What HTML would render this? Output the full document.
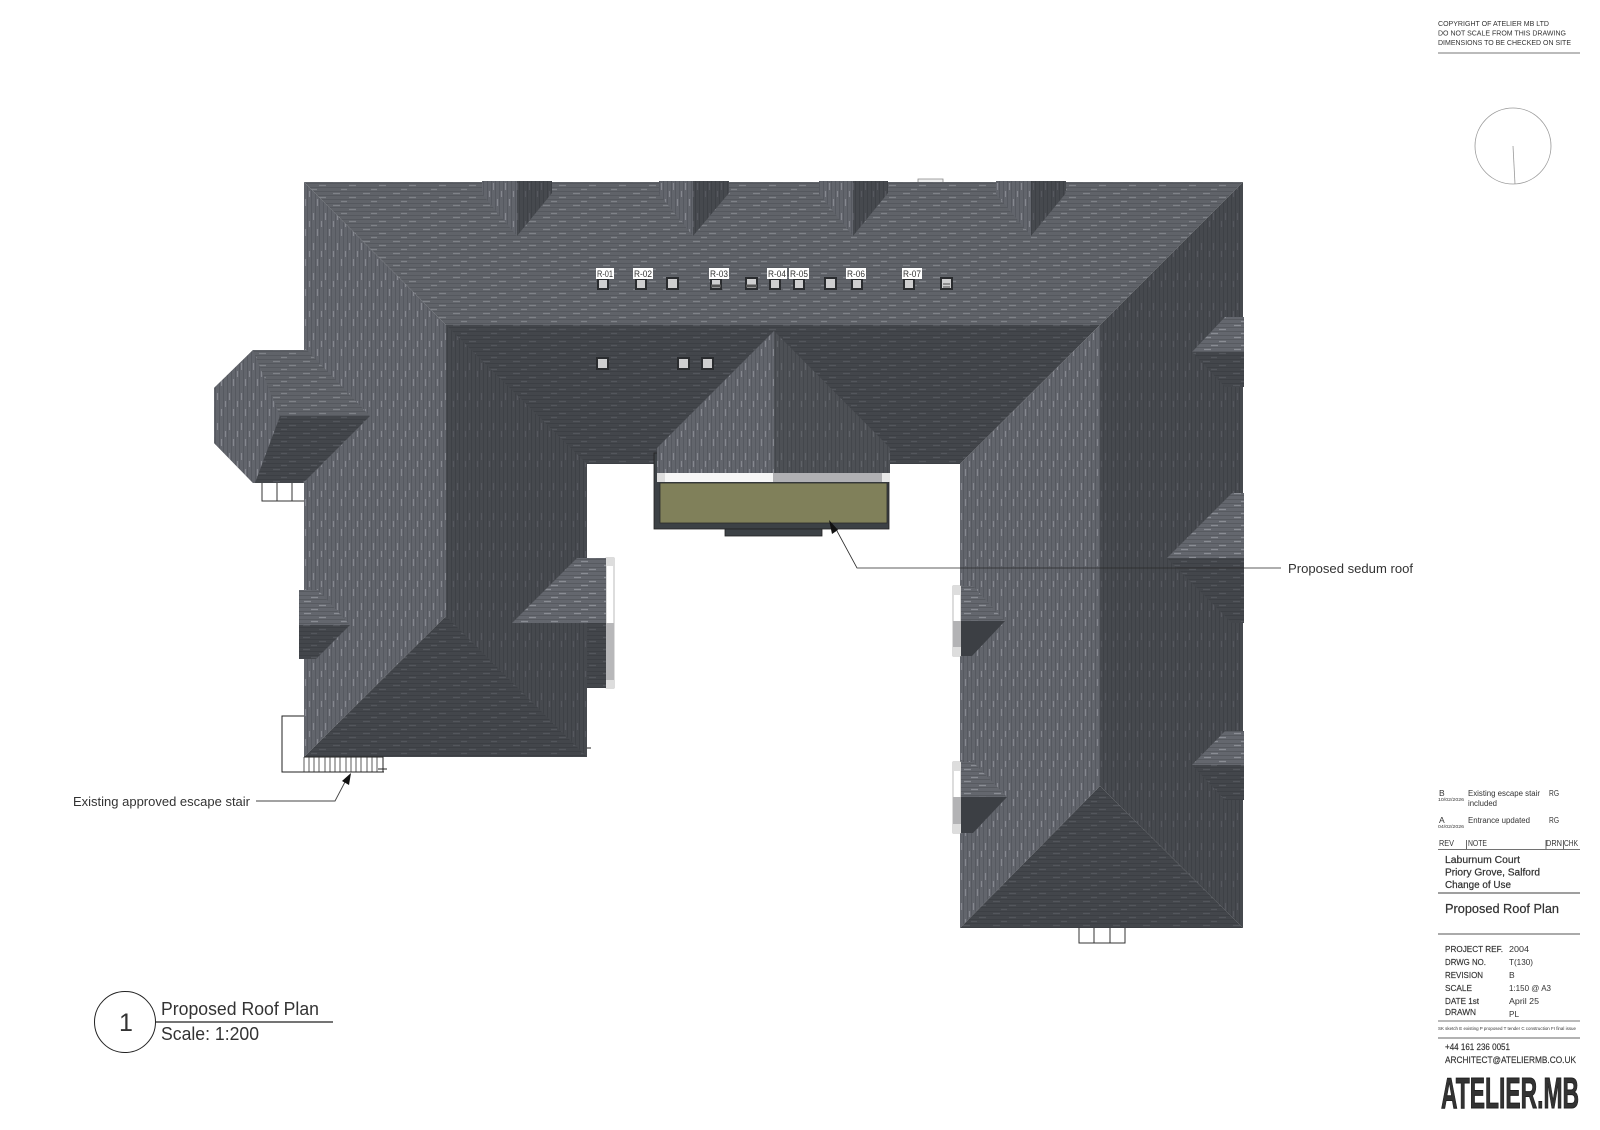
<!DOCTYPE html>
<html>
<head>
<meta charset="utf-8">
<title>Proposed Roof Plan</title>
<style>
html,body{margin:0;padding:0;background:#fff;width:1600px;height:1130px;overflow:hidden}
svg{display:block}
text{font-family:"Liberation Sans",sans-serif;fill:#333}
</style>
</head>
<body>
<svg width="1600" height="1130" viewBox="0 0 1600 1130" xmlns="http://www.w3.org/2000/svg">
<defs>
<pattern id="mh" width="30" height="12" patternUnits="userSpaceOnUse">
<rect width="30" height="12" fill="#606369"/>
<path d="M0 3.500H30M0 7.500H30M0 11.500H30" stroke="#55585e" stroke-width="1"/>
<path d="M3 1.500H10M19 5.500H26M11 9.500H17" stroke="#7f8288" stroke-width="1.200"/>
</pattern>
<pattern id="lv" width="12" height="30" patternUnits="userSpaceOnUse">
<rect width="12" height="30" fill="#62656c"/>
<path d="M3.500 0V30M7.500 0V30M11.500 0V30" stroke="#565960" stroke-width="1"/>
<path d="M1.500 3V10M5.500 19V26M9.500 11V17" stroke="#85888f" stroke-width="1.200"/>
</pattern>
<pattern id="dv" width="12" height="30" patternUnits="userSpaceOnUse">
<rect width="12" height="30" fill="#46494e"/>
<path d="M3.500 0V30M7.500 0V30M11.500 0V30" stroke="#3e4146" stroke-width="1"/>
<path d="M1.500 3V10M9.500 11V17" stroke="#55585e" stroke-width="1.200"/>
</pattern>
<pattern id="gv" width="12" height="30" patternUnits="userSpaceOnUse">
<rect width="12" height="30" fill="#4d5055"/>
<path d="M3.500 0V30M7.500 0V30M11.500 0V30" stroke="#44474c" stroke-width="1"/>
<path d="M1.500 3V10M9.500 11V17" stroke="#5f6268" stroke-width="1.200"/>
</pattern>
<pattern id="dh" width="30" height="12" patternUnits="userSpaceOnUse">
<rect width="30" height="12" fill="#43464b"/>
<path d="M0 3.500H30M0 7.500H30M0 11.500H30" stroke="#3c3f44" stroke-width="1"/>
<path d="M3 1.500H10M19 5.500H26M11 9.500H17" stroke="#53565c" stroke-width="1.200"/>
</pattern>
<pattern id="bh" width="30" height="12" patternUnits="userSpaceOnUse">
<rect width="30" height="12" fill="#64676e"/>
<path d="M0 3.500H30M0 7.500H30M0 11.500H30" stroke="#575a60" stroke-width="1"/>
<path d="M4 1.500H11M19 5.500H26M11 9.500H18" stroke="#8a8d94" stroke-width="1.200"/>
</pattern>
</defs>

<!-- main roof planes -->
<polygon points="304,182 1243,182 1100,325 446,325" fill="url(#mh)"/>
<polygon points="304,182 446,325 446,616 304,757" fill="url(#lv)"/>
<polygon points="446,325 1100,325 960,464 587,464 587,757 304,757 446,616" fill="url(#dh)"/>
<polygon points="446,325 587,464 587,757 446,616" fill="url(#dv)"/>
<polygon points="1100,325 1243,182 1243,928 1100,786" fill="url(#dv)"/>
<polygon points="1100,325 960,464 960,928 1100,786" fill="url(#lv)"/>
<polygon points="960,928 1100,786 1243,928" fill="url(#dh)"/>

<!-- top dormers -->
<g>
<polygon points="482,181 517,181 517,236 482,194" fill="url(#lv)"/><polygon points="517,181 552,181 552,193 517,236" fill="url(#dv)"/>
<polygon points="659,181 693,181 693,236 659,194" fill="url(#lv)"/><polygon points="693,181 729,181 729,193 693,236" fill="url(#dv)"/>
<polygon points="819,181 853,181 853,236 819,194" fill="url(#lv)"/><polygon points="853,181 888,181 888,193 853,236" fill="url(#dv)"/>
<polygon points="996,181 1031,181 1031,236 996,194" fill="url(#lv)"/><polygon points="1031,181 1066,181 1066,193 1031,236" fill="url(#dv)"/>
</g>
<path d="M918 182V179H943V182" fill="#eee" stroke="#888" stroke-width=".8"/>

<!-- left octagonal bay -->
<polygon points="253,350 307,350 370,416 304,483 253,483 214,443 214,388" fill="url(#mh)"/>
<polygon points="253,350 280,416 264,483 253,483 214,443 214,388" fill="url(#lv)"/>
<polygon points="280,416 370,416 303,483 255,483" fill="url(#dh)"/>
<path d="M262 483V501H304M277 483V501M292 483V501" fill="none" stroke="#333" stroke-width="1"/>

<!-- left bump -->
<polygon points="299,590 318,590 350,625 299,625" fill="url(#bh)"/>
<polygon points="299,625 350,625 316,659 299,659" fill="url(#dh)"/>

<!-- left wing right bay -->
<rect x="606" y="558" width="8" height="130" fill="#fff" stroke="#aaa" stroke-width=".8"/>
<rect x="606" y="558" width="8" height="8" fill="#ddd"/>
<rect x="606" y="623" width="8" height="57" fill="#b7b7b9"/>
<rect x="606" y="680" width="8" height="8" fill="#ddd"/>
<polygon points="587,558 606,558 606,688 587,688" fill="url(#dh)"/>
<polygon points="577,558 606,558 606,623 512,623" fill="url(#bh)"/>
<path d="M587 748H591" stroke="#222"/>

<!-- right wing left bays -->
<g>
<rect x="953" y="586" width="8" height="70" fill="#fff" stroke="#aaa" stroke-width=".8"/>
<rect x="953" y="586" width="8" height="9" fill="#ddd"/><rect x="953" y="621" width="8" height="26" fill="#b3b3b5"/><rect x="953" y="647" width="8" height="9" fill="#ddd"/>
<polygon points="961,586 973,586 1005,621 961,621" fill="url(#bh)"/>
<polygon points="961,621 1005,621 972,656 961,656" fill="#3c3f44"/>
<rect x="953" y="762" width="8" height="71" fill="#fff" stroke="#aaa" stroke-width=".8"/>
<rect x="953" y="762" width="8" height="9" fill="#ddd"/><rect x="953" y="797" width="8" height="27" fill="#b3b3b5"/><rect x="953" y="824" width="8" height="9" fill="#ddd"/>
<polygon points="961,762 973,762 1007,797 961,797" fill="url(#bh)"/>
<polygon points="961,797 1007,797 973,833 961,833" fill="#3c3f44"/>
</g>

<!-- right side dormers -->
<g>
<polygon points="1225,317 1244,317 1244,352 1192,352" fill="url(#bh)"/>
<polygon points="1192,352 1244,352 1244,387 1225,387" fill="url(#dh)"/>
<polygon points="1232,493 1244,493 1244,558 1167,558" fill="url(#bh)"/>
<polygon points="1167,558 1244,558 1244,623 1232,623" fill="url(#dh)"/>
<polygon points="1225,731 1244,731 1244,765 1192,765" fill="url(#bh)"/>
<polygon points="1192,765 1244,765 1244,800 1225,800" fill="url(#dh)"/>
</g>

<!-- bottom steps -->
<path d="M1079 928V943H1125V928M1094 928V943M1110 928V943" fill="none" stroke="#333" stroke-width="1"/>

<!-- central gable with sedum roof -->
<rect x="654" y="453" width="235" height="76" fill="#3c4145" stroke="#222" stroke-width=".8"/>
<rect x="725" y="529" width="97" height="7" fill="#3d4246" stroke="#222" stroke-width=".8"/>
<polygon points="774,331 657,448 657,473 774,473" fill="url(#lv)"/>
<polygon points="774,331 890,448 890,473 774,473" fill="url(#gv)"/>
<rect x="657" y="473" width="116" height="9" fill="#f6f6f6"/>
<rect x="657" y="473" width="8" height="9" fill="#ddd"/>
<rect x="773" y="473" width="109" height="9" fill="#b0b0b3"/>
<rect x="882" y="473" width="8" height="9" fill="#e8e8e8"/>
<rect x="660" y="483" width="227" height="40" fill="#80805a" stroke="#2b2b2b" stroke-width=".8"/>

<!-- skylights -->
<g fill="#cfcfd0" stroke="#2a2c2f" stroke-width="2">
<rect x="598" y="279" width="10" height="10"/>
<rect x="636" y="279" width="10" height="10"/>
<rect x="667" y="278" width="11" height="11"/>
<rect x="711" y="279" width="10" height="10"/>
<rect x="746" y="278" width="11" height="11"/>
<rect x="770" y="279" width="10" height="10"/>
<rect x="794" y="279" width="10" height="10"/>
<rect x="825" y="278" width="11" height="11"/>
<rect x="852" y="279" width="10" height="10"/>
<rect x="904" y="279" width="10" height="10"/>
<rect x="941" y="278" width="11" height="11"/>
<rect x="597" y="358" width="11" height="11"/>
<rect x="678" y="358" width="11" height="11"/>
<rect x="702" y="358" width="11" height="11"/>
</g>
<path d="M711 286H721M746 286H757" stroke="#555" stroke-width="3"/>
<path d="M943 284H950M943 287H950" stroke="#777" stroke-width="1.500"/>
<g fill="#fff">
<rect x="596" y="268" width="18" height="11"/><rect x="633" y="268" width="20" height="11"/><rect x="709" y="268" width="20" height="11"/><rect x="767" y="268" width="20" height="11"/><rect x="789" y="268" width="20" height="11"/><rect x="846" y="268" width="20" height="11"/><rect x="902" y="268" width="20" height="11"/>
</g>
<g font-size="9" fill="#444">
<text x="597" y="277" textLength="16" lengthAdjust="spacingAndGlyphs">R-01</text>
<text x="634" y="277" textLength="18" lengthAdjust="spacingAndGlyphs">R-02</text>
<text x="710" y="277" textLength="18" lengthAdjust="spacingAndGlyphs">R-03</text>
<text x="768" y="277" textLength="18" lengthAdjust="spacingAndGlyphs">R-04</text>
<text x="790" y="277" textLength="18" lengthAdjust="spacingAndGlyphs">R-05</text>
<text x="847" y="277" textLength="18" lengthAdjust="spacingAndGlyphs">R-06</text>
<text x="903" y="277" textLength="18" lengthAdjust="spacingAndGlyphs">R-07</text>
</g>

<!-- escape stair -->
<path d="M304 716H282V772H384M304 757H383V772M378 769H387" fill="none" stroke="#222" stroke-width="1"/>
<path d="M304 757V772M309 757V772M314 757V772M319 757V772M325 757V772M330 757V772M335 757V772M340 757V772M346 757V772M351 757V772M356 757V772M361 757V772M367 757V772M372 757V772M377 757V772" stroke="#333" stroke-width=".8"/>

<!-- leaders -->
<path d="M837 531L857 568H1281" fill="none" stroke="#2a2a2a" stroke-width=".8"/>
<polygon points="829,520 838,530 832,534" fill="#111"/>
<path d="M345 782L335 801H256" fill="none" stroke="#444" stroke-width=".9"/>
<polygon points="351,773 349,785 342,781" fill="#111"/>
<text x="1288" y="573" font-size="13" textLength="125" lengthAdjust="spacingAndGlyphs">Proposed sedum roof</text>
<text x="73" y="806" font-size="13" textLength="177" lengthAdjust="spacingAndGlyphs">Existing approved escape stair</text>

<!-- view title -->
<circle cx="125" cy="1022" r="30.500" fill="none" stroke="#222" stroke-width="1"/>
<path d="M155 1022H333" stroke="#222" stroke-width="1.200"/>
<text x="119" y="1031" font-size="25" fill="#222">1</text>
<text x="161" y="1015" font-size="18" textLength="158" lengthAdjust="spacingAndGlyphs">Proposed Roof Plan</text>
<text x="161" y="1040" font-size="18" textLength="98" lengthAdjust="spacingAndGlyphs">Scale: 1:200</text>

<!-- top right -->
<g font-size="7.500" fill="#555">
<text x="1438" y="26" textLength="111" lengthAdjust="spacingAndGlyphs">COPYRIGHT OF ATELIER MB LTD</text>
<text x="1438" y="35.500" textLength="128" lengthAdjust="spacingAndGlyphs">DO NOT SCALE FROM THIS DRAWING</text>
<text x="1438" y="45" textLength="133" lengthAdjust="spacingAndGlyphs">DIMENSIONS TO BE CHECKED ON SITE</text>
</g>
<path d="M1438 53H1580" stroke="#777" stroke-width="1"/>
<circle cx="1513" cy="146" r="38" fill="none" stroke="#999" stroke-width=".8"/>
<path d="M1513 146L1515 184" stroke="#999" stroke-width=".8"/>

<!-- title block -->
<g fill="#555">
<text x="1439" y="796" font-size="8.500">B</text>
<text x="1438" y="801" font-size="4.500" textLength="26" lengthAdjust="spacingAndGlyphs">10/02/2026</text>
<text x="1468" y="796" font-size="8" textLength="72" lengthAdjust="spacingAndGlyphs">Existing escape stair</text>
<text x="1468" y="806" font-size="8" textLength="29" lengthAdjust="spacingAndGlyphs">included</text>
<text x="1549" y="796" font-size="8" textLength="10" lengthAdjust="spacingAndGlyphs">RG</text>
<text x="1439" y="823" font-size="8.500">A</text>
<text x="1438" y="828" font-size="4.500" textLength="26" lengthAdjust="spacingAndGlyphs">04/02/2026</text>
<text x="1468" y="823" font-size="8" textLength="62" lengthAdjust="spacingAndGlyphs">Entrance updated</text>
<text x="1549" y="823" font-size="8" textLength="10" lengthAdjust="spacingAndGlyphs">RG</text>
</g>
<g font-size="8" fill="#333">
<text x="1439" y="846" textLength="15" lengthAdjust="spacingAndGlyphs">REV</text>
<text x="1468" y="846" textLength="19" lengthAdjust="spacingAndGlyphs">NOTE</text>
<text x="1546" y="846" textLength="16" lengthAdjust="spacingAndGlyphs">DRN</text>
<text x="1564" y="846" textLength="14" lengthAdjust="spacingAndGlyphs">CHK</text>
</g>
<path d="M1438 849.500H1580M1466.500 840V849M1546 840V849M1563.500 840V849" stroke="#444" stroke-width=".8"/>
<g font-size="10" fill="#2b2b2b" stroke="#2b2b2b" stroke-width=".2">
<text x="1445" y="863" textLength="75" lengthAdjust="spacingAndGlyphs">Laburnum Court</text>
<text x="1445" y="875.500" textLength="95" lengthAdjust="spacingAndGlyphs">Priory Grove, Salford</text>
<text x="1445" y="888" textLength="66" lengthAdjust="spacingAndGlyphs">Change of Use</text>
</g>
<path d="M1438 893H1580" stroke="#666" stroke-width="1.200"/>
<text x="1445" y="913" font-size="13" fill="#2b2b2b" stroke="#2b2b2b" stroke-width=".2" textLength="114" lengthAdjust="spacingAndGlyphs">Proposed Roof Plan</text>
<path d="M1438 934H1580" stroke="#555" stroke-width=".9"/>
<g font-size="8.500" fill="#2b2b2b" stroke="#2b2b2b" stroke-width=".15">
<text x="1445" y="952" textLength="58" lengthAdjust="spacingAndGlyphs">PROJECT REF.</text>
<text x="1445" y="965" textLength="41" lengthAdjust="spacingAndGlyphs">DRWG NO.</text>
<text x="1445" y="978" textLength="38" lengthAdjust="spacingAndGlyphs">REVISION</text>
<text x="1445" y="991" textLength="27" lengthAdjust="spacingAndGlyphs">SCALE</text>
<text x="1445" y="1004" textLength="34" lengthAdjust="spacingAndGlyphs">DATE 1st</text>
<text x="1445" y="1015" textLength="31" lengthAdjust="spacingAndGlyphs">DRAWN</text>
</g>
<g font-size="8.500" fill="#666">
<text x="1509" y="952" textLength="20" lengthAdjust="spacingAndGlyphs">2004</text>
<text x="1509" y="965" textLength="24" lengthAdjust="spacingAndGlyphs">T(130)</text>
<text x="1509" y="978">B</text>
<text x="1509" y="991" textLength="42" lengthAdjust="spacingAndGlyphs">1:150 @ A3</text>
<text x="1509" y="1004" textLength="30" lengthAdjust="spacingAndGlyphs">April 25</text>
<text x="1509" y="1017" textLength="10" lengthAdjust="spacingAndGlyphs">PL</text>
</g>
<path d="M1438 1021H1580" stroke="#444" stroke-width=".8"/>
<text x="1438" y="1030" font-size="4.500" fill="#555" textLength="138" lengthAdjust="spacingAndGlyphs">SK sketch E existing P proposed T tender C construction FI final issue</text>
<path d="M1438 1038H1580" stroke="#666" stroke-width="1"/>
<g font-size="9" fill="#2b2b2b" stroke="#2b2b2b" stroke-width=".15">
<text x="1445" y="1050" textLength="65" lengthAdjust="spacingAndGlyphs">+44 161 236 0051</text>
<text x="1445" y="1063" textLength="131" lengthAdjust="spacingAndGlyphs">ARCHITECT@ATELIERMB.CO.UK</text>
</g>
<text x="1441" y="1108" font-size="44" font-weight="bold" fill="#1f1f1f" stroke="#1f1f1f" stroke-width="1" textLength="138" lengthAdjust="spacingAndGlyphs">ATELIER.MB</text>
</svg>
</body>
</html>
